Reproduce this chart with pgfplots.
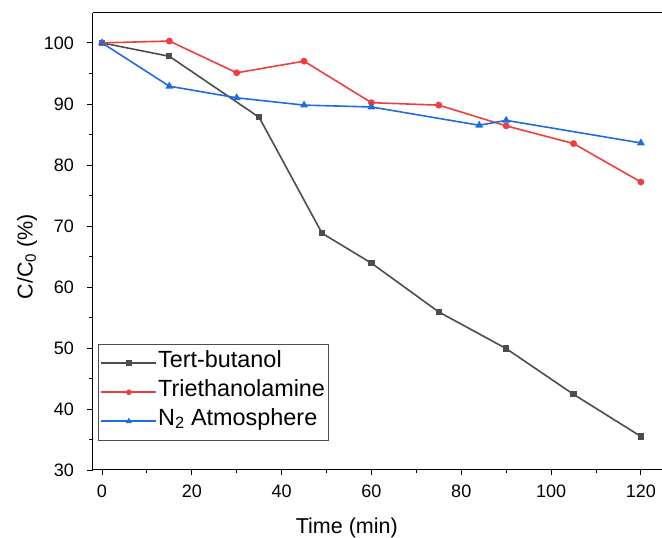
\documentclass[border=0pt]{standalone}
\usepackage{fontspec}
\setmainfont{Liberation Sans}
\usepackage{pgfplots}
\pgfplotsset{compat=1.18}
\definecolor{cgray}{HTML}{4D4D4D}
\definecolor{cred}{HTML}{EF3E40}
\definecolor{cblue}{HTML}{1E6DDF}
\begin{document}
\begin{tikzpicture}
\begin{axis}[
  name=ax,
  scale only axis,
  width=569pt, height=457pt,
  xmin=-2, xmax=124.7, ymin=30, ymax=104.9,
  xtick={0,20,...,120}, ytick={30,40,...,100},
  minor xtick={10,30,...,110}, minor ytick={35,45,...,95,105},
  tick align=outside,
  major tick length=5.5pt, minor tick length=3.5pt,
  tick style={black, line width=0.8pt},
  axis line style={line width=1pt},
  axis x line*=bottom, axis y line*=left,
  tick label style={font=\fontsize{18}{20}\selectfont},
  yticklabel style={xshift=-10pt},
  xticklabel style={yshift=-6pt},
  /pgf/number format/assume math mode=true,
  xlabel={Time (min)},
  ylabel={C/C\textsubscript{0} (\%)},
  label style={font=\fontsize{21.5}{24}\selectfont},
  xlabel style={at={(axis description cs:0.446,-0.127)}, anchor=center},
  ylabel style={at={(axis description cs:-0.116,0.467)}, anchor=center, rotate=0},
  legend style={at={(axis description cs:0.009,0.276)}, anchor=north west,
    font=\fontsize{23.4}{26}\selectfont, draw=cgray, line width=0.8pt,
    row sep=0pt, inner xsep=2pt, inner ysep=4.5pt,
    nodes={inner sep=1pt, text height=17.5pt, text depth=9.5pt}},
  legend cell align=left,
  legend image code/.code={\draw[mark repeat=2,mark phase=2,mark size=2pt,#1] plot coordinates {(0pt,0pt) (27.5pt,0pt) (55pt,0pt)};},
  every axis plot/.append style={line width=1.6pt},
]
\addplot[cgray, mark=square*, mark size=2.3pt] coordinates {
(0,100) (15,97.8) (35,87.8) (49,68.8) (60,63.9) (75,55.9) (90,49.9) (105,42.4) (120,35.5)};
\addlegendentry{Tert-butanol}
\addplot[cred, mark=*, mark size=2.6pt] coordinates {
(0,100) (15,100.3) (30,95.1) (45,97.0) (60,90.2) (75,89.8) (90,86.4) (105,83.5) (120,77.2)};
\addlegendentry{Triethanolamine}
\addplot[cblue, mark=triangle*, mark size=3pt] coordinates {
(0,100) (15,92.9) (30,91.0) (45,89.8) (60,89.5) (84,86.5) (90,87.3) (120,83.6)};
\addlegendentry{N\textsubscript{2} Atmosphere}
\end{axis}
\draw[line width=1pt] (ax.north west) -- (ax.north east);
\pgfresetboundingbox
\path ([xshift=-93pt,yshift=-68pt]ax.south west) rectangle ([yshift=13pt]ax.north east);
\end{tikzpicture}
\end{document}
